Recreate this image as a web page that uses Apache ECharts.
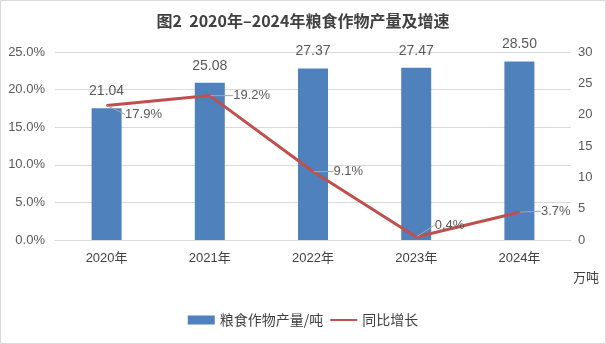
<!DOCTYPE html>
<html>
<head>
<meta charset="utf-8">
<script src="https://cdn.jsdelivr.net/npm/echarts@6/dist/echarts.min.js"></script>
<style>html,body{margin:0;padding:0;background:#fff}#c{width:606px;height:344px}</style>
</head>
<body>
<div id="c"></div>
<script>
const categories = ['2020年', '2021年', '2022年', '2023年', '2024年'];
const output = [21.04, 25.08, 27.37, 27.47, 28.50];
const growth = [17.9, 19.2, 9.1, 0.4, 3.7];
const leftTicks = [0, 5, 10, 15, 20, 25];
const rightTicks = [0, 5, 10, 15, 20, 25, 30];

const growthLabelShift = [[13, 9], [18, 0], [15, 0], [13, -12], [16, -1]];
const FONT = '"Liberation Sans", "Noto Sans CJK SC", sans-serif';
const CJK = '"Noto Sans CJK SC", sans-serif';

const chart = echarts.init(document.getElementById('c'), null, {renderer: 'canvas'});
chart.setOption({
  animation: false,
  backgroundColor: '#fff',
  title: {
    text: '图2  2020年–2024年粮食作物产量及增速',
    left: 'center', top: 8,
    textStyle: {fontFamily: CJK, fontSize: 16, fontWeight: 'bold', color: '#404040'}
  },
  grid: {left: 55, right: 35, top: 52, bottom: 104},
  legend: {
    bottom: 12, left: 'center', itemGap: 6, itemWidth: 27, itemHeight: 9,
    textStyle: {fontFamily: CJK, fontSize: 14, color: '#404040'},
    data: [
      {name: '粮食作物产量/吨', icon: 'rect'},
      {name: '同比增长', itemStyle: {opacity: 0}}
    ]
  },
  xAxis: {
    type: 'category', data: categories,
    axisLine: {lineStyle: {color: '#d9d9d9'}},
    axisTick: {show: false},
    axisLabel: {fontFamily: FONT, fontSize: 13, color: '#404040', margin: 12}
  },
  yAxis: [
    {
      type: 'value', min: leftTicks[0], max: leftTicks[leftTicks.length - 1], interval: 5,
      axisLabel: {fontFamily: FONT, fontSize: 13, color: '#595959', margin: 10,
        formatter: v => v.toFixed(1) + '%'},
      axisLine: {show: false}, axisTick: {show: false},
      splitLine: {lineStyle: {color: '#d9d9d9'}}
    },
    {
      type: 'value', min: rightTicks[0], max: rightTicks[rightTicks.length - 1], interval: 5,
      position: 'right',
      axisLabel: {fontFamily: FONT, fontSize: 13, color: '#595959', margin: 7},
      axisLine: {show: false}, axisTick: {show: false},
      splitLine: {show: false}
    }
  ],
  series: [
    {
      name: '粮食作物产量/吨', type: 'bar', yAxisIndex: 1, data: output,
      barWidth: 30,
      itemStyle: {color: '#4F81BD'},
      label: {show: true, position: 'top', distance: 10, fontFamily: FONT, fontSize: 14,
        color: '#595959', formatter: p => p.value.toFixed(2)}
    },
    {
      name: '同比增长', type: 'line', yAxisIndex: 0, data: growth,
      symbol: 'circle', symbolSize: 1, showSymbol: true,
      lineStyle: {color: '#C0504D', width: 3},
      itemStyle: {color: '#C0504D'},
      label: {show: true, position: 'right', distance: 5, fontFamily: FONT, fontSize: 13,
        color: '#595959', formatter: p => p.value.toFixed(1) + '%'},
      labelLine: {show: true, lineStyle: {color: '#a6a6a6', width: 1}},
      labelLayout: p => ({dx: growthLabelShift[p.dataIndex][0], dy: growthLabelShift[p.dataIndex][1]})
    }
  ],
  graphic: [
    {type: 'text', left: 573, top: 271,
      style: {text: '万吨', fontFamily: CJK, fontSize: 13, fill: '#404040'}},
    {type: 'rect', shape: {x: 0.5, y: 0.5, width: 605, height: 343},
      style: {fill: 'none', stroke: '#d9d9d9', lineWidth: 1}, silent: true}
  ]
});
</script>
</body>
</html>
